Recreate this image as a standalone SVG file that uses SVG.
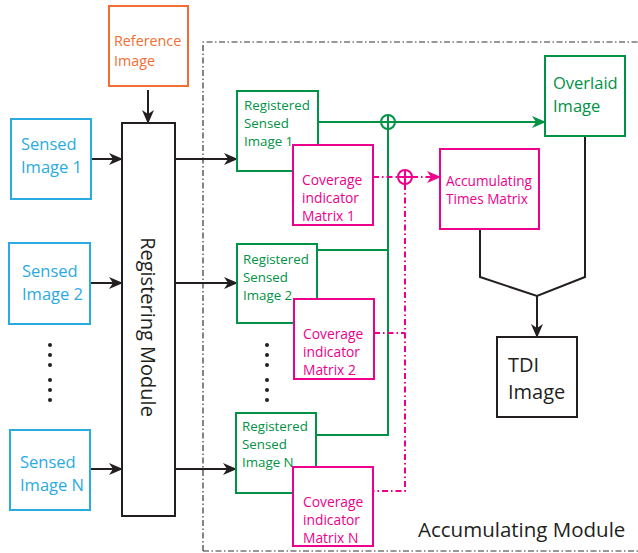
<svg xmlns="http://www.w3.org/2000/svg" width="638" height="553" viewBox="0 0 638 553">
<defs>
<style>
text{font-family:"Open Sans","Liberation Sans",sans-serif}
.box{fill:#fff;stroke-width:2}
.blue{stroke:#29abe2}.tblue{fill:#29abe2;font-size:16.5px}
.orange{stroke:#f26d31}.torange{fill:#f26d31;font-size:14.3px}
.green{stroke:#009245}.tgreen{fill:#009245}
.pink{stroke:#ec008c}.tpink{fill:#ec008c}
.black{stroke:#231f20}.tblack{fill:#231f20}
.ln{fill:none;stroke-width:2}
.pd{stroke-dasharray:6 3 1.5 3}
.bd{fill:none;stroke:#333;stroke-width:1.2;stroke-dasharray:6 2.5 1.5 2.5}
</style>
<marker id="ak" markerUnits="userSpaceOnUse" markerWidth="14" markerHeight="12" refX="13" refY="6" orient="auto"><path d="M0,0 L14,6 L0,12 L4,6 z" fill="#231f20"/></marker>
<marker id="ag" markerUnits="userSpaceOnUse" markerWidth="14" markerHeight="12" refX="13" refY="6" orient="auto"><path d="M0,0 L14,6 L0,12 L4,6 z" fill="#009245"/></marker>
<marker id="ap" markerUnits="userSpaceOnUse" markerWidth="14" markerHeight="12" refX="13" refY="6" orient="auto"><path d="M0,0 L14,6 L0,12 L4,6 z" fill="#ec008c"/></marker>
</defs>
<rect width="638" height="553" fill="#fff"/>

<g id="accumulating-module">
<path d="M203,551 L203,42 L640,42" class="bd"/>
<path d="M203,551 L640,551" class="bd"/>
<text x="418" y="537" class="tblack" style="font-size:20.5px">Accumulating Module</text>
</g>

<g id="connectors">
<line class="ln black" x1="148" y1="90" x2="148" y2="123" marker-end="url(#ak)"/>
<line class="ln black" x1="91" y1="159" x2="122" y2="159" marker-end="url(#ak)"/>
<line class="ln black" x1="90" y1="283" x2="122" y2="283" marker-end="url(#ak)"/>
<line class="ln black" x1="90" y1="469" x2="122" y2="469" marker-end="url(#ak)"/>
<line class="ln black" x1="175" y1="159" x2="237" y2="159" marker-end="url(#ak)"/>
<line class="ln black" x1="175" y1="283" x2="237" y2="283" marker-end="url(#ak)"/>
<line class="ln black" x1="175" y1="469" x2="236" y2="469" marker-end="url(#ak)"/>
<line class="ln green" x1="318" y1="122" x2="381" y2="122"/>
<line class="ln green" x1="395" y1="122" x2="545" y2="122" marker-end="url(#ag)"/>
<polyline class="ln green" points="316,435 388,435 388,129"/>
<line class="ln green" x1="317" y1="250" x2="388" y2="250"/>
<circle cx="388" cy="122" r="7" class="ln green"/>
<line class="ln green" x1="381" y1="122" x2="395" y2="122"/>
<line class="ln green" x1="388" y1="115" x2="388" y2="129"/>
<line class="ln pink pd" x1="373" y1="177" x2="398" y2="177"/>
<line class="ln pink pd" x1="412" y1="177" x2="440" y2="177" marker-end="url(#ap)"/>
<polyline class="ln pink pd" points="405,184 405,491 373,491"/>
<line class="ln pink pd" x1="374" y1="333" x2="405" y2="333"/>
<circle cx="405" cy="177" r="7" class="ln pink"/>
<line class="ln pink" x1="398" y1="177" x2="412" y2="177"/>
<line class="ln pink" x1="405" y1="170" x2="405" y2="184"/>
<polyline class="ln black" points="480,229 480,277 537,296 585,277 585,136"/>
<line class="ln black" x1="537" y1="296" x2="537" y2="337" marker-end="url(#ak)"/>
</g>

<g id="reference-image">
<rect x="109" y="6" width="79" height="80" class="box orange"/>
<text class="torange" x="114" y="46">Reference</text>
<text class="torange" x="114" y="66">Image</text>
</g>

<g id="sensed-image-1">
<rect x="11" y="119" width="80" height="80" class="box blue"/>
<text class="tblue" x="21" y="150">Sensed</text>
<text class="tblue" x="21" y="173">Image 1</text>
</g>
<g id="sensed-image-2">
<rect x="9" y="243" width="81" height="81" class="box blue"/>
<text class="tblue" x="22" y="277">Sensed</text>
<text class="tblue" x="22" y="300">Image 2</text>
</g>
<g id="sensed-dots" fill="#231f20">
<circle cx="50" cy="345" r="2"/><circle cx="50" cy="355" r="2"/><circle cx="50" cy="365" r="2"/>
<circle cx="50" cy="380" r="2"/><circle cx="50" cy="390" r="2"/><circle cx="50" cy="400" r="2"/>
</g>
<g id="sensed-image-n">
<rect x="10" y="430" width="80" height="80" class="box blue"/>
<text class="tblue" x="20" y="468">Sensed</text>
<text class="tblue" x="20" y="491">Image N</text>
</g>

<g id="registering-module">
<rect x="122" y="123" width="53" height="393" class="box black"/>
<text class="tblack" transform="translate(141,327) rotate(90)" text-anchor="middle" style="font-size:20px">Registering Module</text>
</g>

<g id="registered-1">
<rect x="237" y="91" width="81" height="80" class="box green"/>
<text class="tgreen" style="font-size:13.3px"><tspan x="244" y="110">Registered</tspan><tspan x="244" y="128">Sensed</tspan><tspan x="244" y="146">Image 1</tspan></text>
</g>
<g id="coverage-1">
<rect x="293" y="145" width="80" height="80" class="box pink"/>
<text class="tpink" style="font-size:13.8px"><tspan x="302" y="185">Coverage</tspan><tspan x="302" y="203">indicator</tspan><tspan x="302" y="221">Matrix 1</tspan></text>
</g>
<g id="registered-2">
<rect x="237" y="244" width="80" height="79" class="box green"/>
<text class="tgreen" style="font-size:13.3px"><tspan x="243" y="264">Registered</tspan><tspan x="243" y="282">Sensed</tspan><tspan x="243" y="300">Image 2</tspan></text>
</g>
<g id="coverage-2">
<rect x="294" y="299" width="80" height="80" class="box pink"/>
<text class="tpink" style="font-size:13.8px"><tspan x="303" y="339">Coverage</tspan><tspan x="303" y="357">indicator</tspan><tspan x="303" y="375">Matrix 2</tspan></text>
</g>
<g id="registered-dots" fill="#231f20">
<circle cx="267" cy="345" r="2"/><circle cx="267" cy="355" r="2"/><circle cx="267" cy="365" r="2"/>
<circle cx="267" cy="380" r="2"/><circle cx="267" cy="390" r="2"/><circle cx="267" cy="400" r="2"/>
</g>
<g id="registered-n">
<rect x="236" y="413" width="80" height="80" class="box green"/>
<text class="tgreen" style="font-size:13.3px"><tspan x="242" y="431">Registered</tspan><tspan x="242" y="449">Sensed</tspan><tspan x="242" y="467">Image N</tspan></text>
</g>
<g id="coverage-n">
<rect x="293" y="467" width="80" height="79" class="box pink"/>
<text class="tpink" style="font-size:13.8px"><tspan x="303" y="507">Coverage</tspan><tspan x="303" y="525">indicator</tspan><tspan x="303" y="543">Matrix N</tspan></text>
</g>

<g id="overlaid-image">
<rect x="545" y="56" width="80" height="80" class="box green"/>
<text class="tgreen" style="font-size:16.5px"><tspan x="553" y="89">Overlaid</tspan><tspan x="553" y="112">Image</tspan></text>
</g>
<g id="accumulating-times-matrix">
<rect x="440" y="149" width="99" height="80" class="box pink"/>
<text class="tpink" style="font-size:13.6px"><tspan x="446" y="186">Accumulating</tspan><tspan x="446" y="204">Times Matrix</tspan></text>
</g>
<g id="tdi-image">
<rect x="497" y="337" width="80" height="80" class="box black"/>
<text class="tblack" style="font-size:20px"><tspan x="508" y="372">TDI</tspan><tspan x="508" y="399">Image</tspan></text>
</g>
</svg>
